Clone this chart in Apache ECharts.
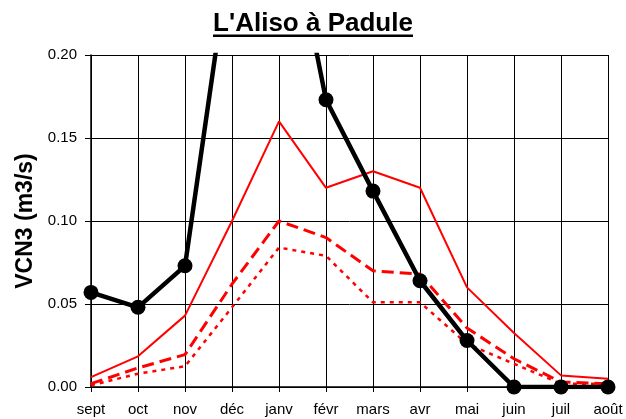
<!DOCTYPE html>
<html>
<head>
<meta charset="utf-8">
<script src="https://cdn.jsdelivr.net/npm/echarts@6/dist/echarts.min.js"></script>
<style>
  html, body { margin: 0; padding: 0; background: #fff; }
  #chart { width: 626px; height: 419px; }
</style>
</head>
<body>
<div id="chart"></div>
<script>
// mois (année hydrologique)
var mois = ['sept', 'oct', 'nov', 'déc', 'janv', 'févr', 'mars', 'avr', 'mai', 'juin', 'juil', 'août'];
var yTicks = ['0.00', '0.05', '0.10', '0.15', '0.20'];

// VCN3 observés (noir), déc et janv hors échelle
var vcnObs = [0.057, 0.048, 0.073, 0.27, 0.315, 0.173, 0.118, 0.064, 0.028, 0, 0, 0];
// courbes rouges
var vcnRouge1 = [0.006, 0.0185, 0.043, 0.100, 0.160, 0.120, 0.130, 0.120, 0.060, 0.0325, 0.007, 0.005];
var vcnRouge2 = [0.002, 0.0115, 0.0195, 0.062, 0.100, 0.090, 0.070, 0.068, 0.0355, 0.017, 0.003, 0.002];
var vcnRouge3 = [0.001, 0.008, 0.0125, 0.048, 0.084, 0.079, 0.051, 0.051, 0.026, 0.014, 0.002, 0.002];

var chart = echarts.init(document.getElementById('chart'));
var font = 'Liberation Sans, Arial, sans-serif';

chart.setOption({
  animation: false,
  title: {
    text: "L'Aliso à Padule",
    left: 'center',
    top: 6,
    textStyle: { fontFamily: font, fontSize: 26, fontWeight: 'bold', color: '#000' }
  },
  graphic: [{
    type: 'rect',
    id: 'souligne',
    shape: { x: 213, y: 34.5, width: 200, height: 2.5 },
    style: { fill: '#000' }
  }],
  grid: { left: 91, right: 18, top: 55, bottom: 32 },
  xAxis: {
    type: 'category',
    data: mois,
    boundaryGap: false,
    axisLine: { lineStyle: { color: '#000', width: 1.5 } },
    axisTick: { show: true, length: 5, inside: false, lineStyle: { color: '#000' } },
    axisLabel: { color: '#000', fontFamily: font, fontSize: 15, margin: 15, interval: 0 },
    splitLine: { show: true, lineStyle: { color: '#000', width: 1 } }
  },
  yAxis: {
    type: 'value',
    min: 0,
    max: 0.2,
    interval: 0.05,
    name: 'VCN3 (m3/s)',
    nameLocation: 'middle',
    nameGap: 53,
    nameTextStyle: { color: '#000', fontFamily: font, fontSize: 23, fontWeight: 'bold', padding: [0, 0, 0, 0] },
    axisLine: { show: true, lineStyle: { color: '#000', width: 1.5 } },
    axisTick: { show: true, length: 6, lineStyle: { color: '#000' } },
    axisLabel: {
      color: '#000', fontFamily: font, fontSize: 15, margin: 14,
      formatter: function (v) { return yTicks[Math.round(v / 0.05)]; }
    },
    splitLine: { show: true, lineStyle: { color: '#000', width: 1 } }
  },
  series: [
    {
      type: 'line', data: vcnRouge1, showSymbol: false, symbol: 'none',
      lineStyle: { color: '#ff0000', width: 2 }
    },
    {
      type: 'line', data: vcnRouge2, showSymbol: false, symbol: 'none',
      lineStyle: { color: '#ff0000', width: 3, type: [12, 6] }
    },
    {
      type: 'line', data: vcnRouge3, showSymbol: false, symbol: 'none',
      lineStyle: { color: '#ff0000', width: 2.5, type: [4, 5] }
    },
    {
      type: 'line', data: vcnObs, symbol: 'circle', symbolSize: 15,
      itemStyle: { color: '#000' },
      lineStyle: { color: '#000', width: 4.5 }
    }
  ]
});
</script>
</body>
</html>
